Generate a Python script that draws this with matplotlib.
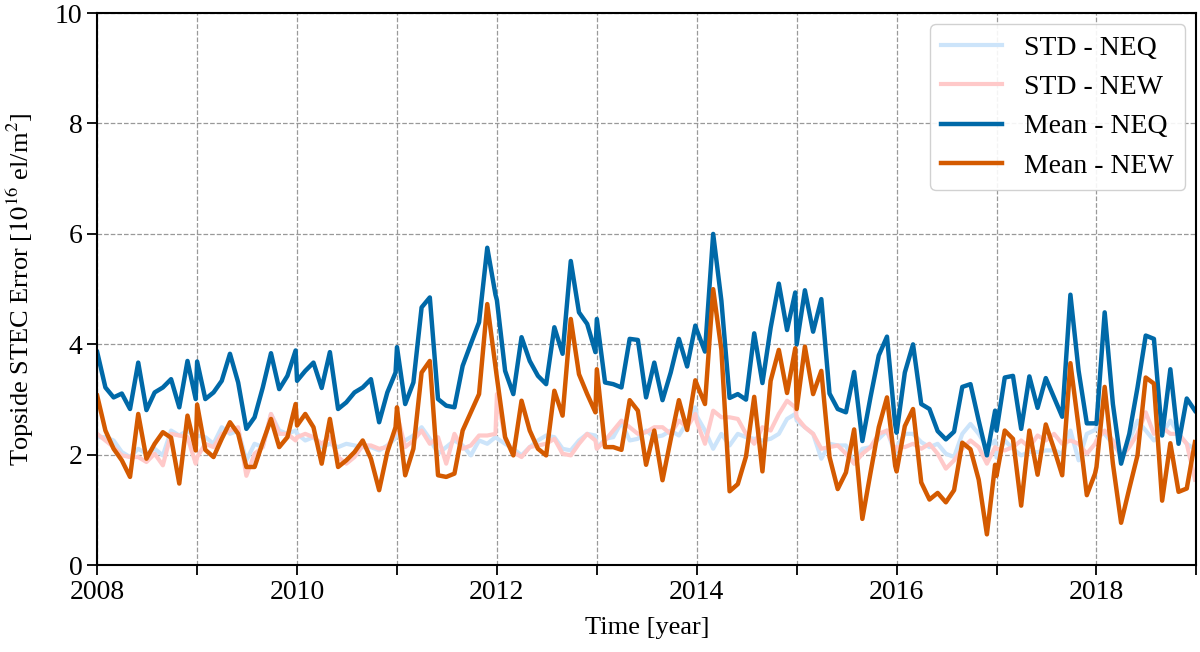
import matplotlib
matplotlib.use("Agg")
import matplotlib.pyplot as plt
from matplotlib.ticker import MultipleLocator, FuncFormatter
import numpy as np

plt.rcParams['font.family'] = ['Liberation Serif', 'DejaVu Serif']
plt.rcParams['mathtext.fontset'] = 'stix'

# samples every 30 days from 1 Jan of each year (13 per year)
years = list(range(2008, 2019))
days = list(range(0, 361, 30))

mean_neq = [
    3.86, 3.22, 3.04, 3.11, 2.83, 3.67, 2.81, 3.13, 3.22, 3.37, 2.86, 3.70, 3.01,
    3.69, 3.01, 3.13, 3.34, 3.83, 3.31, 2.47, 2.68, 3.22, 3.84, 3.19, 3.43, 3.89,
    3.34, 3.52, 3.67, 3.21, 3.86, 2.83, 2.95, 3.13, 3.22, 3.37, 2.59, 3.13, 3.49,
    3.95, 2.92, 3.31, 4.67, 4.85, 3.01, 2.89, 2.86, 3.61, 4.01, 4.40, 5.75, 4.90,
    4.80, 3.52, 3.10, 4.13, 3.70, 3.43, 3.28, 4.31, 3.83, 5.51, 4.58, 4.37, 3.86,
    4.46, 3.31, 3.28, 3.22, 4.10, 4.08, 3.04, 3.67, 2.99, 3.49, 4.10, 3.60, 4.34,
    4.26, 3.87, 6.00, 4.79, 3.03, 3.10, 3.00, 4.20, 3.30, 4.30, 5.10, 4.26, 4.94,
    4.00, 4.98, 4.23, 4.82, 3.11, 2.83, 2.77, 3.50, 2.25, 3.05, 3.80, 4.14, 2.55,
    2.40, 3.49, 4.00, 2.92, 2.83, 2.43, 2.28, 2.42, 3.23, 3.28, 2.62, 1.99, 2.80,
    2.44, 3.40, 3.43, 2.47, 3.42, 2.85, 3.39, 3.04, 2.69, 4.90, 3.52, 2.57, 2.57,
    2.56, 4.58, 2.92, 1.84, 2.38, 3.22, 4.16, 4.10, 2.35, 3.55, 2.20, 3.02, 2.80,
]

mean_new = [
    3.07, 2.44, 2.11, 1.90, 1.60, 2.74, 1.93, 2.20, 2.41, 2.31, 1.48, 2.71, 2.08,
    2.91, 2.09, 1.96, 2.29, 2.59, 2.38, 1.78, 1.78, 2.23, 2.65, 2.14, 2.32, 2.92,
    2.53, 2.74, 2.50, 1.84, 2.65, 1.78, 1.90, 2.05, 2.26, 1.93, 1.36, 2.05, 2.50,
    2.86, 1.63, 2.11, 3.49, 3.70, 1.63, 1.60, 1.66, 2.44, 2.77, 3.10, 4.73, 3.60,
    3.40, 2.32, 1.99, 2.98, 2.44, 2.11, 1.99, 3.16, 2.71, 4.46, 3.46, 3.10, 2.77,
    3.55, 2.14, 2.14, 2.09, 2.99, 2.80, 1.82, 2.44, 1.54, 2.28, 2.99, 2.45, 3.35,
    3.28, 2.92, 5.00, 3.90, 1.34, 1.47, 1.97, 3.05, 1.70, 3.34, 3.90, 3.12, 3.93,
    2.83, 3.96, 3.10, 3.52, 1.96, 1.38, 1.68, 2.46, 0.84, 1.68, 2.50, 3.04, 1.80,
    1.70, 2.52, 2.83, 1.50, 1.19, 1.31, 1.14, 1.36, 2.22, 2.10, 1.55, 0.56, 1.82,
    1.62, 2.44, 2.29, 1.08, 2.44, 1.64, 2.55, 2.11, 1.63, 3.66, 2.50, 1.27, 1.66,
    1.78, 3.23, 1.84, 0.77, 1.39, 1.99, 3.40, 3.29, 1.17, 2.21, 1.33, 1.39, 2.23,
]

std_neq = [
    2.32, 2.32, 2.26, 2.05, 1.96, 2.11, 2.02, 2.11, 1.99, 2.44, 2.35, 2.44, 2.32,
    2.35, 2.32, 2.20, 2.50, 2.38, 2.44, 1.90, 2.20, 2.14, 2.74, 2.44, 2.38, 2.44,
    2.38, 2.26, 2.32, 2.14, 2.20, 2.14, 2.20, 2.17, 2.14, 2.14, 2.08, 2.17, 2.30,
    2.38, 2.26, 2.35, 2.50, 2.29, 2.02, 2.14, 2.26, 2.17, 1.99, 2.26, 2.20, 2.32,
    2.30, 2.20, 2.11, 1.99, 2.14, 2.26, 2.35, 2.32, 2.11, 2.08, 2.26, 2.38, 2.35,
    2.11, 2.29, 2.32, 2.59, 2.26, 2.29, 2.44, 2.32, 2.35, 2.44, 2.35, 2.59, 2.86,
    2.70, 2.44, 2.11, 2.38, 2.17, 2.38, 2.32, 2.29, 2.26, 2.29, 2.38, 2.65, 2.74,
    2.62, 2.50, 2.38, 1.93, 2.20, 2.17, 2.17, 1.84, 2.11, 2.14, 2.29, 2.44, 2.02,
    2.14, 2.38, 2.38, 2.23, 2.14, 2.20, 2.02, 1.96, 2.38, 2.56, 2.38, 2.14, 2.26,
    1.95, 2.26, 2.11, 1.99, 2.05, 2.05, 2.08, 2.08, 2.02, 2.44, 1.90, 2.38, 2.45,
    2.50, 2.38, 2.20, 2.00, 2.26, 2.62, 2.44, 2.26, 2.38, 2.62, 2.38, 2.20, 2.10,
]

std_new = [
    2.38, 2.26, 2.14, 1.99, 1.96, 1.96, 1.87, 2.02, 1.81, 2.38, 2.35, 2.32, 1.84,
    1.96, 2.20, 2.14, 2.38, 2.44, 2.50, 1.62, 2.02, 2.14, 2.74, 2.38, 2.38, 2.26,
    2.32, 2.38, 2.32, 2.20, 2.32, 1.96, 1.84, 1.96, 2.17, 2.17, 2.11, 2.14, 2.40,
    2.74, 2.14, 2.26, 2.44, 2.20, 2.32, 1.84, 2.38, 2.11, 2.17, 2.35, 2.35, 2.38,
    3.10, 2.29, 2.05, 1.96, 2.14, 2.17, 2.20, 2.29, 2.02, 1.99, 2.20, 2.38, 2.26,
    2.11, 2.26, 2.44, 2.62, 2.50, 2.38, 2.41, 2.50, 2.50, 2.38, 2.62, 2.50, 2.74,
    2.60, 2.20, 2.80, 2.68, 2.68, 2.65, 2.38, 2.20, 2.50, 2.44, 2.74, 2.98, 2.86,
    2.68, 2.50, 2.38, 2.11, 2.14, 2.17, 2.02, 1.84, 2.02, 2.14, 2.38, 2.44, 2.08,
    2.14, 2.14, 2.20, 2.11, 2.20, 2.02, 1.75, 1.90, 2.11, 2.26, 2.14, 1.84, 2.14,
    2.11, 2.08, 2.14, 2.26, 2.14, 2.35, 2.26, 2.38, 2.20, 2.26, 2.20, 2.02, 2.20,
    2.26, 2.44, 2.26, 1.96, 2.14, 2.38, 2.77, 2.38, 2.50, 2.38, 2.38, 2.20, 1.55,
]

t = np.array([y + d / 365.25 for y in years for d in days])

fig, ax = plt.subplots(figsize=(12, 6.52), dpi=100)
fig.subplots_adjust(left=0.081, right=0.997, top=0.98, bottom=0.133)

ax.plot(t, std_neq, color='#cce4fa', lw=3.0, label='STD - NEQ')
ax.plot(t, std_new, color='#ffc9c9', lw=3.0, label='STD - NEW')
ax.plot(t, mean_neq, color='#0069a8', lw=3.2, label='Mean - NEQ')
ax.plot(t, mean_new, color='#d45a00', lw=3.2, label='Mean - NEW')

ax.set_xlim(2008, 2019)
ax.set_ylim(0, 10)
ax.xaxis.set_major_locator(MultipleLocator(1))
ax.xaxis.set_major_formatter(FuncFormatter(lambda v, p: f'{int(round(v))}' if int(round(v)) % 2 == 0 else ''))
ax.yaxis.set_major_locator(MultipleLocator(2))
ax.tick_params(labelsize=20, length=7, width=1.3)
ax.grid(True, ls='--', color='#999999', lw=0.9)
for s in ax.spines.values():
    s.set_linewidth(1.5)

ax.set_xlabel('Time [year]', fontsize=19, labelpad=9)
ax.set_ylabel(r'Topside STEC Error [$10^{16}$ el/m$^2$]', fontsize=19, labelpad=14)

ax.legend(loc='upper right', fontsize=20, handlelength=2.2, framealpha=0.9,
          borderaxespad=0.4)

fig.savefig('out.png', dpi=100)
